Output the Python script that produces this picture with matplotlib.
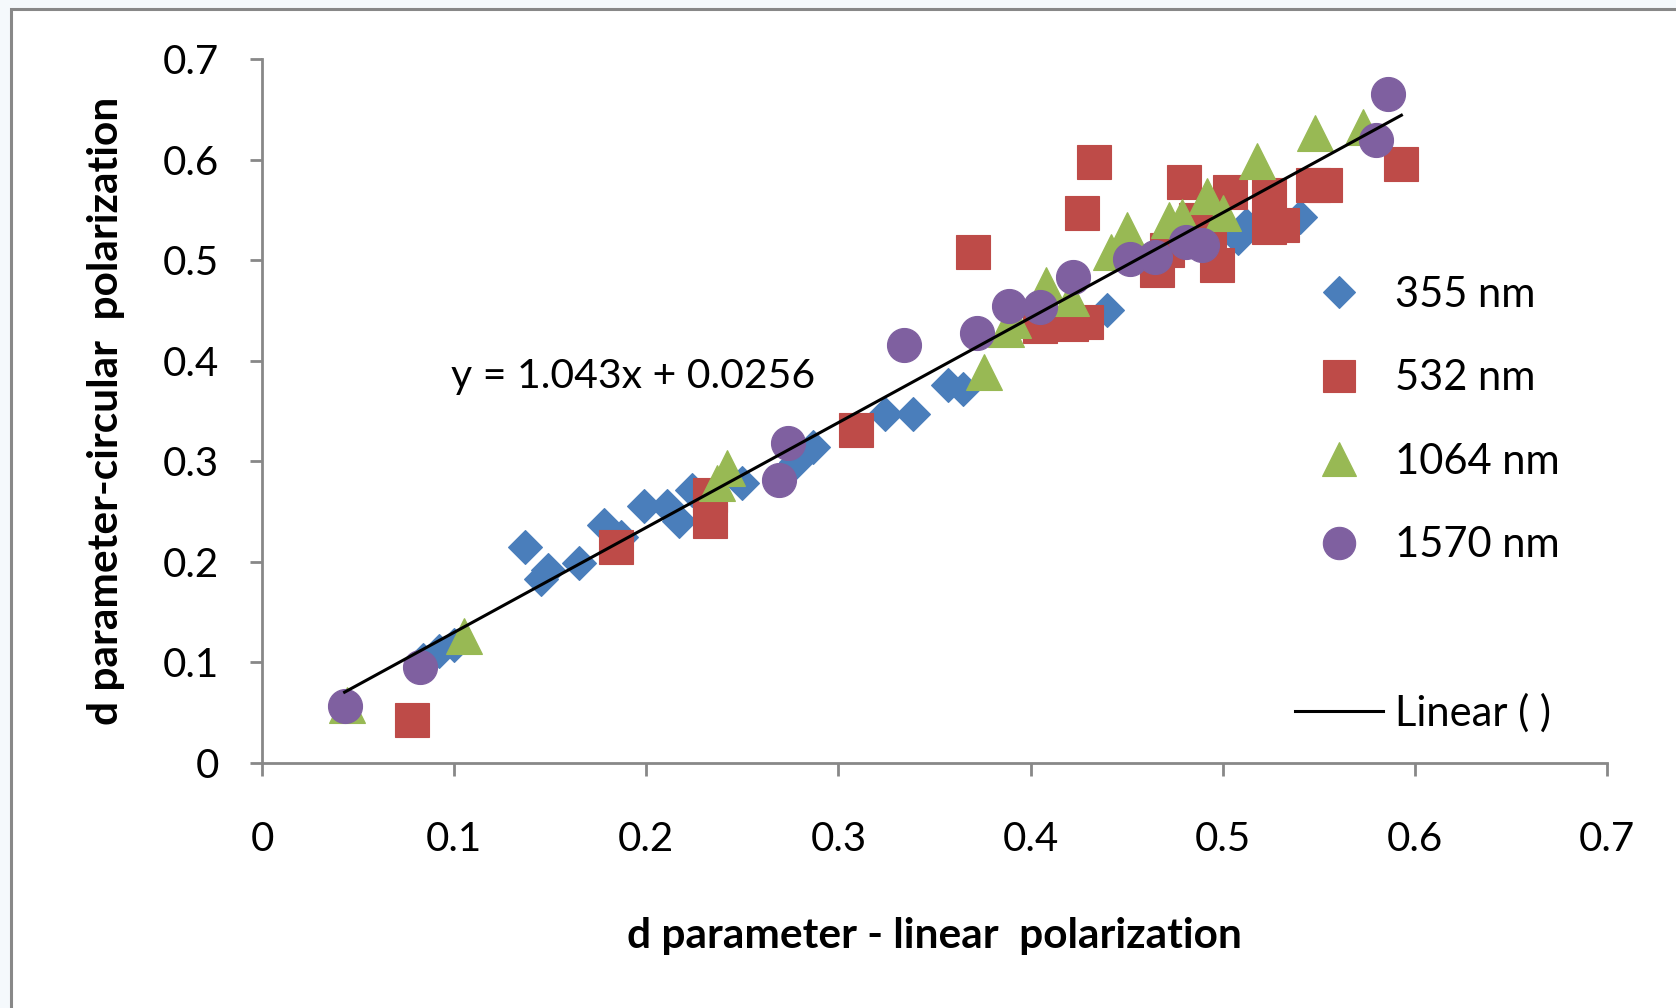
import matplotlib
matplotlib.use("Agg")
import matplotlib.pyplot as plt
from matplotlib.lines import Line2D
from matplotlib.patches import Rectangle
import numpy as np

plt.rcParams['font.family'] = ['Lato', 'DejaVu Sans']

# d parameter pairs (linear polarization, circular polarization) per wavelength
x_355 = [0.084, 0.092, 0.100, 0.137, 0.145, 0.149, 0.165, 0.178, 0.187, 0.199,
         0.211, 0.217, 0.224, 0.250, 0.278, 0.287, 0.324, 0.339, 0.357, 0.365,
         0.440, 0.508, 0.512, 0.540]
y_355 = [0.102, 0.111, 0.117, 0.215, 0.183, 0.192, 0.199, 0.237, 0.225, 0.256,
         0.256, 0.241, 0.271, 0.278, 0.299, 0.314, 0.347, 0.347, 0.376, 0.372,
         0.450, 0.522, 0.535, 0.543]

x_532 = [0.078, 0.184, 0.233, 0.233, 0.309, 0.370, 0.405, 0.421, 0.429, 0.427,
         0.433, 0.466, 0.471, 0.480, 0.486, 0.493, 0.497, 0.504, 0.524, 0.524,
         0.531, 0.547, 0.553, 0.593]
y_532 = [0.043, 0.215, 0.266, 0.241, 0.331, 0.508, 0.435, 0.437, 0.438, 0.547,
         0.598, 0.490, 0.510, 0.578, 0.540, 0.527, 0.495, 0.568, 0.565, 0.533,
         0.535, 0.575, 0.575, 0.596]

x_1064 = [0.044, 0.105, 0.237, 0.242, 0.376, 0.387, 0.391, 0.408, 0.421, 0.442,
          0.450, 0.472, 0.479, 0.492, 0.500, 0.518, 0.548, 0.573]
y_1064 = [0.058, 0.126, 0.278, 0.293, 0.389, 0.432, 0.440, 0.475, 0.462, 0.508,
          0.530, 0.540, 0.543, 0.564, 0.547, 0.599, 0.626, 0.632]

x_1570 = [0.043, 0.082, 0.269, 0.274, 0.334, 0.372, 0.389, 0.405, 0.422, 0.452,
          0.465, 0.481, 0.489, 0.580, 0.586]
y_1570 = [0.057, 0.095, 0.281, 0.318, 0.416, 0.428, 0.454, 0.453, 0.483, 0.501,
          0.503, 0.518, 0.515, 0.619, 0.665]

series_labels = ['355 nm', '532 nm', '1064 nm', '1570 nm']
series_colors = ['#4a7ebb', '#be4b48', '#98b954', '#7f60a0']
series_markers = ['D', 's', '^', 'o']
series_sizes = [17.5, 24.5, 26.0, 24.5]

# linear fit over all points
fit_slope = 1.043
fit_intercept = 0.0256
fit_text = 'y = 1.043x + 0.0256'

xticks = [0, 0.1, 0.2, 0.3, 0.4, 0.5, 0.6, 0.7]
yticks = [0, 0.1, 0.2, 0.3, 0.4, 0.5, 0.6, 0.7]
tick_labels = ['0', '0.1', '0.2', '0.3', '0.4', '0.5', '0.6', '0.7']

W, H = 1676, 1008
fig = plt.figure(figsize=(W / 100, H / 100), dpi=100, facecolor='#f5f9fc')

# chart area frame
frame = Rectangle((11 / W, -0.1), 1.2, 1 - 9 / H + 0.1,
                  transform=fig.transFigure, facecolor='white',
                  edgecolor='#888888', linewidth=2.2, zorder=-10)
fig.add_artist(frame)

ax = fig.add_axes([262 / W, 1 - 763 / H, (1607 - 262) / W, (763 - 59) / H])
ax.set_facecolor('none')
ax.set_zorder(1)

xs = [x_355, x_532, x_1064, x_1570]
ys = [y_355, y_532, y_1064, y_1570]
handles = []
for xv, yv, lab, col, mk, ms in zip(xs, ys, series_labels, series_colors,
                                     series_markers, series_sizes):
    h, = ax.plot(xv, yv, linestyle='none', marker=mk, markersize=ms,
                 markerfacecolor=col, markeredgecolor=col, markeredgewidth=0.8,
                 label=lab, clip_on=False)
    handles.append(h)

all_x = np.concatenate([np.asarray(v) for v in xs])
fx = np.array([all_x.min(), all_x.max()])
fit_line, = ax.plot(fx, fit_slope * fx + fit_intercept, color='black',
                    linewidth=2.2, zorder=5)

ax.text(0.0984, 0.384, fit_text, fontsize=29.5, va='center', ha='left')

ax.set_xlim(0, 0.7)
ax.set_ylim(0, 0.7)
ax.set_xticks(xticks)
ax.set_yticks(yticks)
ax.set_xticklabels(tick_labels)
ax.set_yticklabels(tick_labels)
for s in ['top', 'right']:
    ax.spines[s].set_visible(False)
for s in ['left', 'bottom']:
    ax.spines[s].set_color('#888888')
    ax.spines[s].set_linewidth(2.0)
ax.tick_params(axis='both', direction='out', length=9, width=2.0,
               color='#888888', labelsize=29, labelcolor='black')
ax.tick_params(axis='x', pad=33)
ax.tick_params(axis='y', pad=22)

ax.set_xlabel('d parameter - linear  polarization', fontsize=30.5,
              fontweight='bold', labelpad=42)
ax.set_ylabel('d parameter-circular  polarization', fontsize=30.5,
              fontweight='bold', labelpad=27)

blank = Line2D([], [], linestyle='none')
fit_handle = Line2D([], [], color='black', linewidth=2.2)
leg = ax.legend(handles + [blank, fit_handle],
                series_labels + [' ', 'Linear ( )'],
                loc='upper left', bbox_to_anchor=(1295 / W, 1 - 276 / H),
                bbox_transform=fig.transFigure, frameon=False, fontsize=30,
                handlelength=2.1, handletextpad=0.3, labelspacing=1.09,
                borderpad=0, borderaxespad=0, markerscale=0.95)

fig.savefig('out.png', dpi=100, facecolor=fig.get_facecolor())
